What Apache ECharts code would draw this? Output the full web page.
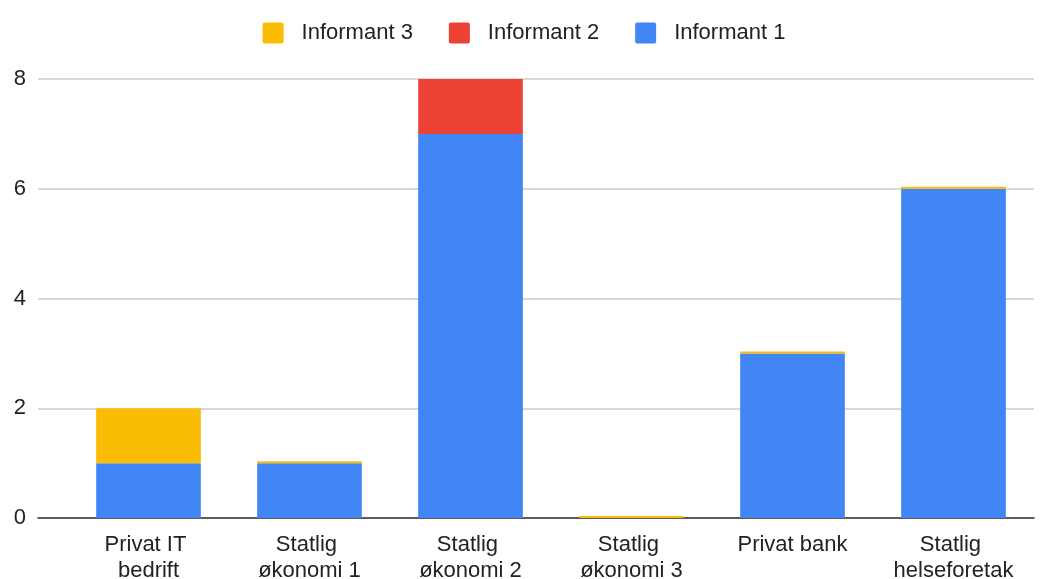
<!DOCTYPE html>
<html>
<head>
<meta charset="utf-8">
<script src="https://cdn.jsdelivr.net/npm/echarts@6/dist/echarts.min.js"></script>
<style>html,body{margin:0;padding:0;background:#fff;}#c{width:1048px;height:579px;}</style>
</head>
<body>
<div id="c"></div>
<script>
const categories = ['Privat IT bedrift', 'Statlig økonomi 1', 'Statlig økonomi 2', 'Statlig økonomi 3', 'Privat bank', 'Statlig helseforetak'];
const informant1 = [1, 1, 7, 0, 3, 6];
const informant2 = [0, 0, 1, 0, 0, 0];
const informant3 = [1, 0, 0, 0, 0, 0];
const yTicks = { min: 0, max: 8, interval: 2 };

const font = 'Liberation Sans, Arial, sans-serif';
const chart = echarts.init(document.getElementById('c'), null, { renderer: 'canvas' });
chart.setOption({
  animation: false,
  textStyle: { fontFamily: font },
  legend: {
    data: ['Informant 3', 'Informant 2', 'Informant 1'],
    top: 17, left: 'center',
    icon: 'path://M2,0 L19,0 Q21,0 21,2 L21,19 Q21,21 19,21 L2,21 Q0,21 0,19 L0,2 Q0,0 2,0 Z',
    itemWidth: 21, itemHeight: 21, itemGap: 36,
    textStyle: { fontSize: 22, color: '#222', fontFamily: font, padding: [0, 0, 0, 13] }
  },
  grid: [
    { left: 68, right: 14, top: 79, bottom: 61, containLabel: false, outerBoundsMode: 'none' },
    { left: 38, right: 14, top: 79, bottom: 61, containLabel: false, outerBoundsMode: 'none' }
  ],
  xAxis: [
    {
      type: 'category', gridIndex: 0, data: categories,
      axisLine: { show: false }, axisTick: { show: false },
      axisLabel: { fontSize: 22, color: '#222', fontFamily: font, margin: 14, lineHeight: 26, width: 140, overflow: 'break', interval: 0 }
    },
    {
      type: 'value', gridIndex: 1, min: 0, max: 1, z: 1,
      axisLine: { show: true, lineStyle: { color: '#333', width: 1.5 } },
      axisTick: { show: false }, axisLabel: { show: false }, splitLine: { show: false }
    }
  ],
  yAxis: [
    { type: 'value', gridIndex: 0, min: yTicks.min, max: yTicks.max, interval: yTicks.interval, show: false, splitLine: { show: false } },
    {
      type: 'value', gridIndex: 1, min: yTicks.min, max: yTicks.max, interval: yTicks.interval, z: 0,
      axisLine: { show: false }, axisTick: { show: false },
      axisLabel: { fontSize: 22, color: '#222', fontFamily: font, margin: 12 },
      splitLine: { lineStyle: { color: '#cccccc', width: 1.5 } }
    }
  ],
  series: [
    { name: 'Informant 1', type: 'bar', stack: 's', data: informant1, itemStyle: { color: '#4285f4' }, barCategoryGap: '35%', xAxisIndex: 0, yAxisIndex: 0, z: 3 },
    { name: 'Informant 2', type: 'bar', stack: 's', data: informant2, itemStyle: { color: '#ea4335' }, barCategoryGap: '35%', xAxisIndex: 0, yAxisIndex: 0, z: 3 },
    { name: 'Informant 3', type: 'bar', stack: 's', data: informant3, itemStyle: { color: '#fbbc04' }, barCategoryGap: '35%', barMinHeight: 2, xAxisIndex: 0, yAxisIndex: 0, z: 4 }
  ]
});
</script>
</body>
</html>
